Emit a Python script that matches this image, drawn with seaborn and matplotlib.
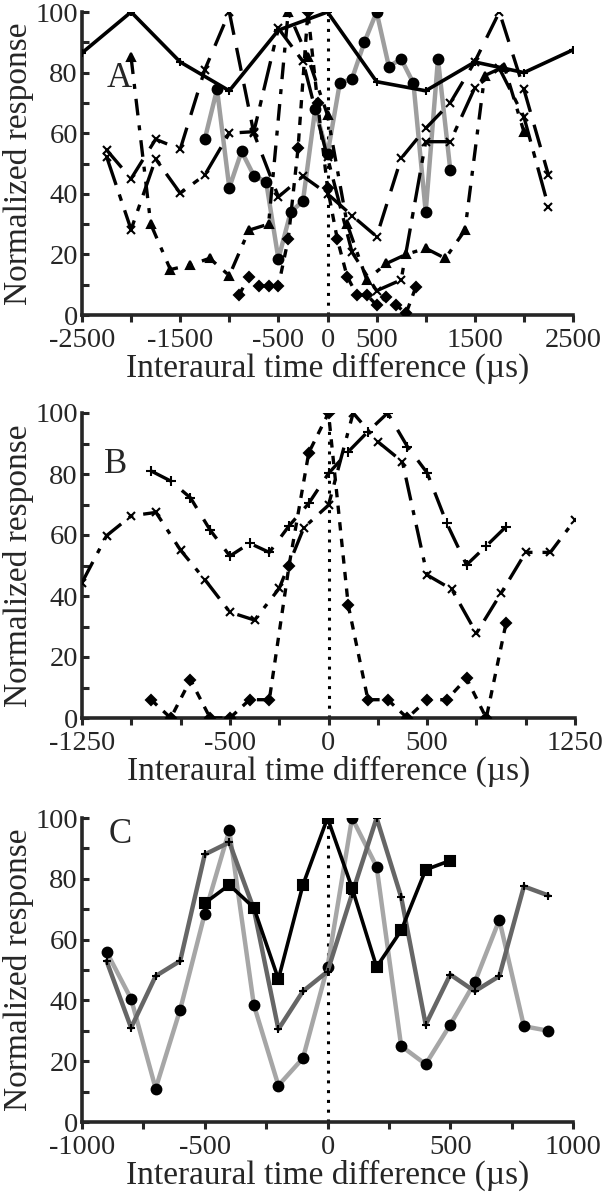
import numpy as np
import pandas as pd
import matplotlib
matplotlib.use('Agg')
import matplotlib.pyplot as plt
from matplotlib.ticker import MultipleLocator
import seaborn as sns

sns.set_style('ticks')
plt.rcParams['font.family'] = ['Liberation Serif', 'DejaVu Serif']

# ---------------- panel A ----------------
a_solid_x = [-2500, -2000, -1500, -1000, -500, 0, 500, 1000, 1500, 2000, 2500]
a_solid_y = [86.5, 100, 83.5, 74, 94, 100, 77, 74, 83.5, 80, 87.5]

a_circ_x = [-1250, -1125, -1000, -875, -750, -625, -500, -375, -250, -125, 0,
            125, 250, 375, 500, 625, 750, 875, 1000, 1125, 1250]
a_circ_y = [58, 74.5, 42, 54, 46, 44, 18.5, 34, 37.6, 68, 53,
            76.5, 78, 90, 100, 82, 84.5, 76.5, 34, 84.5, 48]

a_cross_x = [-2250, -2000, -1750, -1500, -1250, -1000, -750, -500, -250, 0,
             250, 500, 750, 1000, 1250, 1500, 1750, 2000, 2250]
a_cross1_y = [54.5, 45, 58, 54.7, 80.9, 100, 60, 39, 45.8, 40,
              32.8, 25.9, 51.7, 61.6, 70, 83.6, 100, 74.5, 46.2]
a_cross2_y = [52.3, 28.2, 51.5, 40.2, 46.2, 60, 60.5, 94.6, 83.7, 52,
              20.7, 8, 11.6, 57.2, 57.2, 75, 81.4, 65.4, 35.7]

a_tri_x = [-2000, -1800, -1600, -1400, -1200, -1000, -800, -600, -400, -200, 0,
           200, 400, 600, 800, 1000, 1200, 1400, 1600, 1800, 2000]
a_tri_y = [85, 30, 15, 16.5, 18.7, 13, 28, 30, 100, 85, 66,
           30, 11.6, 17, 20, 22, 18.7, 28, 79, 82, 60.5]

a_dia_x = [-900, -800, -700, -600, -500, -400, -300, -200, -100, 0,
           100, 200, 300, 400, 500, 600, 700, 800, 900]
a_dia_y = [6.6, 12.7, 9.6, 9.6, 9.6, 25, 55, 100, 70, 42,
           25, 12.7, 6.6, 6.6, 3.3, 6, 3.3, 0.5, 9.3]

# ---------------- panel B ----------------
b_dia_x = [-900, -800, -700, -600, -500, -400, -300, -200, -100, 0,
           100, 200, 300, 400, 500, 600, 700, 800, 900]
b_dia_y = [6, 0, 12.5, 0, 0, 6, 6, 50, 87, 100,
           37, 6, 6, 0, 6, 6, 13, 0, 31]

b_cross_x = [-1250, -1125, -1000, -875, -750, -625, -500, -375, -250, -125, 0,
             125, 250, 375, 500, 625, 750, 875, 1000, 1125, 1250]
b_cross_y = [44.4, 59.8, 66.3, 67.4, 55, 45.2, 34.7, 32.1, 42.5, 62.4, 69.8,
             100, 90.6, 84, 46.9, 42.2, 27.8, 40.9, 54.3, 54.3, 65]

b_plus_x = [-900, -800, -700, -600, -500, -400, -300, -200, -100, 0,
            100, 200, 300, 400, 500, 600, 700, 800, 900]
b_plus_y = [81, 77.7, 72.2, 61.6, 53.1, 57.3, 54.3, 63, 70.4, 80.2,
            87.3, 93.9, 100, 89, 80.4, 63.8, 50.2, 56.4, 62.7]

# ---------------- panel C ----------------
c_sq_x = [-500, -400, -300, -200, -100, 0, 100, 200, 300, 400, 500]
c_sq_y = [72, 78, 70.5, 47, 78, 100, 77, 51, 63, 83, 86]

c_x = [-900, -800, -700, -600, -500, -400, -300, -200, -100, 0,
       100, 200, 300, 400, 500, 600, 700, 800, 900]
c_circ_y = [56, 40.5, 11, 37, 68.5, 96, 38.5, 12, 21, 51,
            100, 84, 25, 19, 32, 46, 66.5, 31.5, 30]
c_plus_y = [53, 31, 48, 53, 88, 92, 70, 30.5, 43, 49.5,
            75, 100, 74, 32, 48.5, 43, 48, 77.5, 74.5]

W, H = 602, 1199
fig = plt.figure(figsize=(W / 100, H / 100), dpi=100)

TICK_FS = 20.5
LAB_FS = 24


def make_axes(top_px, bottom_px, right_px):
    left = 82 / W
    return fig.add_axes([left, 1 - bottom_px / H, (right_px - 82) / W,
                         (bottom_px - top_px) / H])


def style_axes(ax, xlim, xstep, xlabels, letter, lpos):
    ax.set_xlim(*xlim)
    ax.set_ylim(0, 100)
    ax.set_xticks(np.arange(xlim[0], xlim[1] + 1, xstep))
    ax.set_xticklabels([str(int(v)) if v in xlabels else ''
                        for v in np.arange(xlim[0], xlim[1] + 1, xstep)])
    ax.set_yticks(np.arange(0, 101, 20))
    ax.yaxis.set_minor_locator(MultipleLocator(10))
    ax.tick_params(axis='y', which='both', direction='in', length=5, width=2.2,
                   labelsize=TICK_FS, pad=3)
    ax.tick_params(axis='x', direction='out', length=5, width=2.2,
                   labelsize=TICK_FS, pad=4)
    for s in ['top', 'right']:
        ax.spines[s].set_visible(False)
    for s in ['left', 'bottom']:
        ax.spines[s].set_linewidth(2.6)
    ax.set_xlabel('Interaural time difference (\u00b5s)', fontsize=LAB_FS, labelpad=0)
    ax.set_ylabel('Normalized response', fontsize=LAB_FS)
    ax.yaxis.set_label_coords(-0.098, 0.5)
    ax.plot([0, 0], [0, 100], color='black', linestyle=(0, (1, 2.2)), lw=2.2, zorder=1)
    ax.text(lpos[0], lpos[1], letter, transform=ax.transAxes, fontsize=LAB_FS + 1,
            ha='center', va='center')


def series(ax, x, y, ls, marker, color='black', lw=2.4, ms=6, zorder=3):
    sns.lineplot(x=x, y=y, ax=ax, color=color, linestyle=ls, lw=lw,
                 marker=marker, markersize=ms, markerfacecolor='black',
                 markeredgecolor='black', markeredgewidth=1.5,
                 zorder=zorder, legend=False)


# panel A
axA = make_axes(12, 315, 573)
series(axA, a_circ_x, a_circ_y, '-', 'o', color='0.62', lw=3.2, ms=7)
series(axA, a_dia_x, a_dia_y, (0, (2.5, 2.5)), 'D', ms=5)
series(axA, a_tri_x, a_tri_y, (0, (5, 3, 1.5, 3)), '^', ms=6)
series(axA, a_cross_x, a_cross1_y, (0, (7, 4)), 'x', ms=6)
series(axA, a_cross_x, a_cross2_y, (0, (9, 3, 2, 3)), 'x', ms=6)
series(axA, a_solid_x, a_solid_y, '-', '+', lw=2.6, ms=6)
style_axes(axA, (-2500, 2500), 500, [-2500, -1500, -500, 0, 500, 1500, 2500],
           'A', (0.075, 0.78))

# panel B
axB = make_axes(413, 718, 575)
series(axB, b_dia_x, b_dia_y, (0, (2.5, 2.5)), 'D', ms=5)
series(axB, b_cross_x, b_cross_y, (0, (7, 3, 1.5, 3)), 'x', ms=6)
series(axB, b_plus_x, b_plus_y, (0, (7, 4)), '+', ms=7)
style_axes(axB, (-1250, 1250), 250, [-1250, -500, 0, 500, 1250], 'B', (0.068, 0.83))

# panel C
axC = make_axes(818, 1122, 573)
series(axC, c_x, c_circ_y, '-', 'o', color='0.65', lw=3.2, ms=7)
series(axC, c_x, c_plus_y, '-', '+', color='0.4', lw=3.2, ms=6)
series(axC, c_sq_x, c_sq_y, '-', 's', lw=2.6, ms=6.5)
style_axes(axC, (-1000, 1000), 250, [-1000, -500, 0, 500, 1000], 'C', (0.077, 0.945))

fig.savefig('out.png', dpi=100)
